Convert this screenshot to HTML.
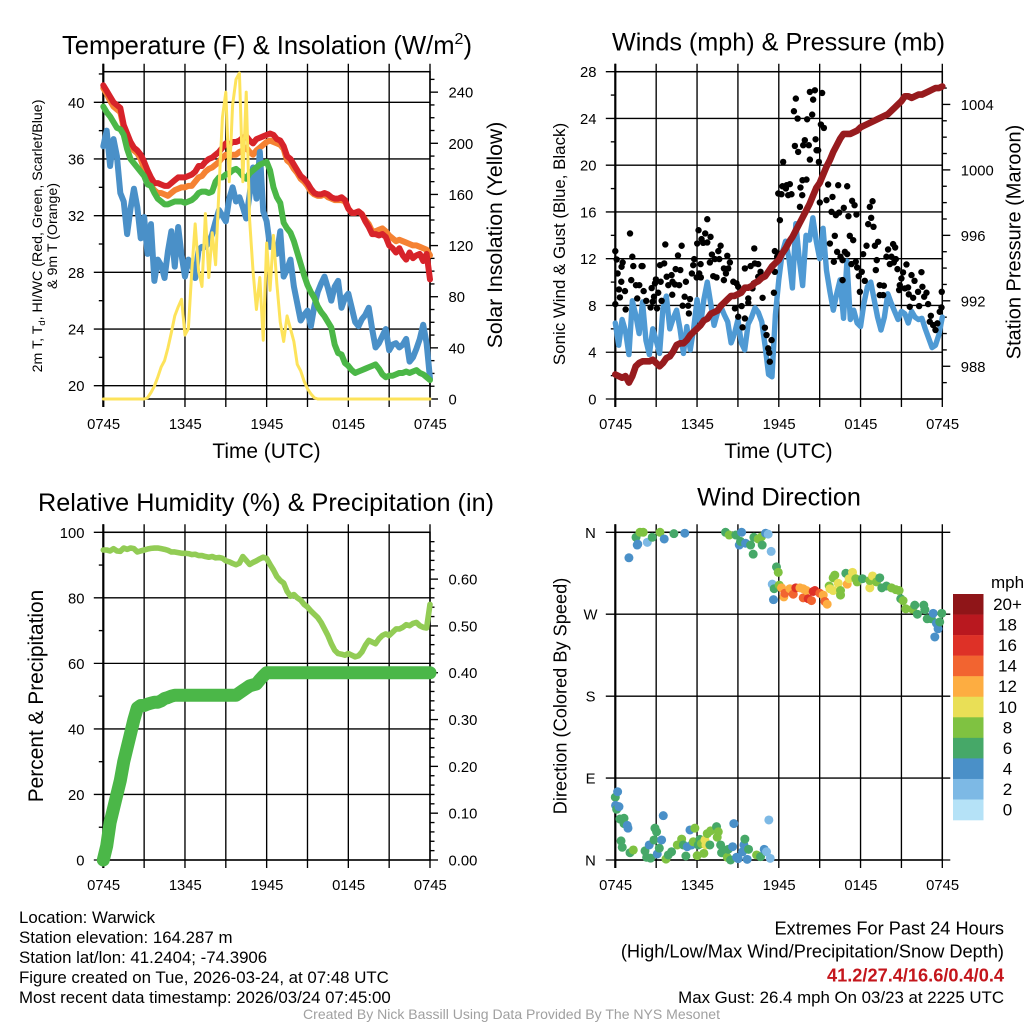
<!DOCTYPE html>
<html lang="en">
<head>
<meta charset="utf-8">
<title>Warwick Mesonet Station Meteogram</title>
<style>
html,body{margin:0;padding:0;background:#fff;}
svg{display:block;font-family:"Liberation Sans",sans-serif;}
text{fill:#000;}
</style>
</head>
<body>
<svg id="chart" xmlns="http://www.w3.org/2000/svg" width="1024" height="1024" viewBox="0 0 1024 1024">
<rect x="0" y="0" width="1024" height="1024" fill="#fff"/>
<text x="267" y="54" font-size="25.6" text-anchor="middle">Temperature (F) &amp; Insolation (W/m<tspan font-size="16" dy="-10">2</tspan><tspan dy="10">)</tspan></text>
<text x="778.5" y="50.5" font-size="25.2" text-anchor="middle">Winds (mph) &amp; Pressure (mb)</text>
<text x="266" y="511" font-size="25.2" text-anchor="middle" textLength="456">Relative Humidity (%) &amp; Precipitation (in)</text>
<text x="779" y="505.5" font-size="25.2" text-anchor="middle">Wind Direction</text>
<text x="266.5" y="458" font-size="20.9" text-anchor="middle">Time (UTC)</text>
<text x="778.5" y="458" font-size="20.9" text-anchor="middle">Time (UTC)</text>
<text transform="translate(42,236) rotate(-90)" font-size="14.2" text-anchor="middle">2m T, T<tspan font-size="9.5" dy="3">d</tspan><tspan dy="-3">, HI/WC (Red, Green, Scarlet/Blue)</tspan></text>
<text transform="translate(57,236) rotate(-90)" font-size="14.2" text-anchor="middle">&amp; 9m T (Orange)</text>
<text transform="translate(502,235) rotate(-90)" font-size="21.2" text-anchor="middle">Solar Insolation (Yellow)</text>
<text transform="translate(565,244) rotate(-90)" font-size="16.9" text-anchor="middle">Sonic Wind &amp; Gust (Blue, Black)</text>
<text transform="translate(1020.5,242) rotate(-90)" font-size="20" text-anchor="middle">Station Pressure (Maroon)</text>
<text transform="translate(43,696) rotate(-90)" font-size="20.9" text-anchor="middle">Percent &amp; Precipitation</text>
<text transform="translate(566.5,696) rotate(-90)" font-size="18.2" text-anchor="middle">Direction (Colored By Speed)</text>
<text x="1007.5" y="588" font-size="17" text-anchor="middle">mph</text>
<g font-size="16.85">
<text x="19" y="923">Location: Warwick</text>
<text x="19" y="943">Station elevation: 164.287 m</text>
<text x="19" y="963">Station lat/lon: 41.2404; -74.3906</text>
<text x="19" y="983">Figure created on Tue, 2026-03-24, at 07:48 UTC</text>
<text x="19" y="1003">Most recent data timestamp: 2026/03/24 07:45:00</text>
</g>
<g font-size="18.2" text-anchor="end">
<text x="1004" y="934.5">Extremes For Past 24 Hours</text>
<text x="1004" y="957.5">(High/Low/Max Wind/Precipitation/Snow Depth)</text>
<text x="1004" y="981.5" font-weight="bold" style="fill:#c4161c">41.2/27.4/16.6/0.4/0.4</text>
<text x="1004" y="1003" font-size="16.85">Max Gust: 26.4 mph On 03/23 at 2225 UTC</text>
</g>
<text x="511.5" y="1019" font-size="14.04" text-anchor="middle" style="fill:#a0a0a0">Created By Nick Bassill Using Data Provided By The NYS Mesonet</text>
</svg>
<script>
const timeTickLabels = ['0745','1345','1945','0145','0745'];
const timeGridHours = [0,3,6,9,12,15,18,21,24];
const tempTicks = [20,24,28,32,36,40];
const tempMinorTicks = [22,26,30,34,38,42];
const solarTicks = [0,40,80,120,160,200,240];
const solarMinorTicks = [10,20,30,50,60,70,90,100,110,130,140,150,170,180,190,210,220,230,250];
const windTicks = [0,4,8,12,16,20,24,28];
const windMinorTicks = [2,6,10,14,18,22,26];
const pressureTicks = [988,992,996,1000,1004];
const pressureMinorTicks = [987,989,990,991,993,994,995,997,998,999,1001,1002,1003,1005];
const humidityTicks = [0,20,40,60,80,100];
const humidityMinorTicks = [10,30,50,70,90];
const precipTicks = [0,0.1,0.2,0.3,0.4,0.5,0.6];
const precipMinorTicks = [0.02,0.04,0.06,0.08,0.12,0.14,0.16,0.18,0.22,0.24,0.26,0.28,0.32,0.34,0.36,0.38,0.42,0.44,0.46,0.48,0.52,0.54,0.56,0.58,0.62,0.64,0.66,0.68];
const directionTicks = [360,270,180,90,0];
const directionTickLabels = ['N','W','S','E','N'];
const legendLabels = ['20+','18','16','14','12','10','8','6','4','2','0'];
const legendColors = ['#8f1518','#b9181f','#de3127','#f26430','#fdad41','#e9df56','#7fc241','#46a868','#4a90c8','#7db9e5','#b5e2f7'];

const airTemp = [41.2,40.8,40.4,40.0,39.8,39.6,38.4,37.8,37.2,36.8,36.6,36.3,35.8,35.2,34.7,34.3,34.3,34.2,34.1,34.1,34.3,34.5,34.7,34.7,34.7,34.8,34.9,35.1,35.5,35.5,35.8,36.0,36.1,36.3,36.5,36.8,37.1,37.0,37.2,37.2,37.3,37.5,37.6,37.3,37.1,37.4,37.5,37.6,37.7,37.8,37.7,37.4,37.3,36.9,36.2,36.0,35.6,35.2,34.8,34.6,34.3,33.9,33.6,33.5,33.5,33.6,33.5,33.3,33.2,33.2,33.3,33.1,32.5,32.2,32.2,32.3,32.1,31.6,31.2,30.7,30.7,30.6,30.7,30.5,29.9,29.7,29.4,29.7,29.2,28.9,29.4,29.0,29.2,29.3,28.8,29.3,27.5];
const temp9m = [41.0,40.6,40.1,39.7,39.5,39.3,38.2,37.6,37.0,36.6,36.4,36.0,35.3,34.7,34.1,33.8,33.6,33.6,33.5,33.4,33.6,33.8,33.9,34.0,34.0,34.1,34.1,34.4,34.7,34.8,35.1,35.3,35.4,35.6,35.8,36.1,36.3,36.2,36.3,36.3,36.5,36.6,36.8,36.5,36.3,36.6,36.8,37.0,37.2,37.3,37.2,37.1,37.0,36.7,35.9,35.7,35.3,35.0,34.6,34.4,34.1,33.7,33.5,33.4,33.4,33.5,33.3,33.2,33.1,33.1,33.1,33.0,32.5,32.2,32.2,32.3,32.1,31.7,31.4,30.9,30.9,31.0,31.1,30.9,30.6,30.4,30.2,30.3,30.2,30.1,30.0,29.9,29.9,29.8,29.7,29.6,29.2];
const dewPoint = [39.7,39.3,39.0,38.6,38.2,38.1,37.7,36.7,36.0,35.7,35.4,35.1,34.8,34.2,34.1,33.6,33.2,33.0,32.8,32.8,32.9,33.0,33.0,33.0,32.9,33.0,33.1,33.3,33.6,33.7,33.7,33.6,33.7,34.4,34.7,34.7,34.9,35.0,35.2,35.3,35.1,34.8,34.6,35.0,35.2,35.4,35.6,35.7,35.8,35.2,34.0,33.3,32.9,31.5,31.1,30.8,30.2,29.4,28.6,27.8,27.1,26.6,26.2,25.6,25.2,24.9,24.5,24.1,22.9,22.3,22.2,21.6,21.4,21.1,20.9,21.0,21.1,21.2,21.3,21.4,21.5,21.2,20.8,20.6,20.7,20.7,20.8,20.9,20.9,21.0,20.9,21.0,21.1,20.9,20.8,20.6,20.4];
const windChill = [36.9,38.0,35.5,37.4,36.2,33.6,33.0,30.7,32.5,33.9,32.6,30.4,31.9,29.3,31.4,27.4,28.9,28.5,27.6,29.5,30.9,28.4,31.2,29.2,27.7,28.9,28.6,27.6,29.6,29.8,29.8,30.1,30.7,31.6,32.4,32.0,31.6,33.2,34.0,33.0,33.3,32.6,31.8,33.5,35.4,33.2,36.5,32.3,31.6,29.8,29.8,29.3,30.9,27.7,28.2,28.9,27.0,25.8,24.6,25.0,25.3,24.2,25.6,26.6,27.2,27.7,26.9,26.0,27.0,27.4,25.5,26.2,26.5,25.5,24.5,24.2,24.7,25.0,25.5,24.0,22.7,23.0,23.5,24.0,22.5,22.9,23.0,22.7,22.9,23.3,21.7,22.0,22.6,23.3,24.3,23.0,20.5];
const solarInsolation = [0,0,0,0,0,0,0,0,0,0,0,0,0,1,5,10,17,25,30,40,52,65,72,78,50,55,100,137,100,88,145,95,130,105,165,220,240,170,230,250,255,170,240,140,100,70,95,46,122,85,128,90,60,45,65,55,45,27,22,14,8,4,1,0,0,0,0,0,0,0,0,0,0,0,0,0,0,0,0,0,0,0,0,0,0,0,0,0,0,0,0,0,0,0,0,0,0];
const sonicWind = [6.5,4.6,6.8,5.8,3.8,8.4,7.2,5.6,8.3,5.0,3.8,6.0,5.0,3.9,7.8,8.8,6.0,6.9,7.6,6.0,3.9,6.2,4.2,6.0,8.5,6.3,8.5,10.0,8.2,6.3,7.4,7.9,7.2,6.6,4.8,5.6,6.8,4.8,4.2,6.4,7.0,7.8,7.4,6.6,4.5,2.1,1.9,7.2,10.2,12.5,13.5,12.0,9.5,15.0,12.0,9.7,14.0,13.6,15.5,13.5,12.0,14.6,11.0,9.2,7.6,9.0,10.2,6.9,11.8,6.8,7.6,6.5,6.2,8.2,9.6,10.0,8.5,7.0,5.9,7.0,9.0,8.2,7.5,6.8,7.5,7.3,6.5,7.5,7.0,6.8,6.9,6.0,5.2,4.4,4.6,5.5,7.0];
const stationPressure = [987.5,987.4,987.3,987.4,987.0,987.4,988.0,988.2,988.3,988.3,988.3,988.4,988.2,988.0,988.2,988.5,988.6,988.9,989.3,989.4,989.4,989.6,989.9,990.1,990.3,990.5,990.8,990.9,991.2,991.3,991.4,991.7,991.9,992.1,992.3,992.3,992.4,992.5,992.8,992.8,992.9,993.1,993.2,993.4,993.5,993.8,994.1,994.3,994.5,994.9,995.2,995.6,995.9,996.3,996.7,997.1,997.5,997.9,998.4,998.9,999.2,999.7,1000.2,1000.6,1001.1,1001.5,1001.9,1002.2,1002.2,1002.2,1002.3,1002.4,1002.6,1002.7,1002.8,1002.9,1003.0,1003.1,1003.2,1003.3,1003.4,1003.6,1003.8,1004.0,1004.2,1004.5,1004.5,1004.4,1004.5,1004.6,1004.6,1004.7,1004.8,1004.9,1005.0,1005.0,1005.1];
const gustHours = [0,0.1,0.17,0.54,0.46,1.25,1.08,1.32,1.93,2,0.44,0.27,0.71,0.34,0,0.76,1.17,1.52,1.76,2.08,1.61,2.27,2.67,2.84,2.74,2.59,3.06,2.98,2.91,3.33,3.28,3.59,3.67,3.15,3.4,3.77,4.13,3.89,4.2,4.38,4.69,4.18,4.43,4.77,4.6,4.87,5.18,5.09,5.48,4.94,5.35,5.4,5.62,5.97,5.72,5.79,6.26,6.16,6.28,6.01,6.11,6.33,6.6,6.45,6.75,6.99,6.75,7.09,6.94,7.31,7.56,7.73,7.63,7.19,7.43,7.97,8.22,8.41,8.29,8.12,7.97,8.66,8.9,9.02,9.63,10.07,9.76,9.76,10.2,9.51,9.93,10.24,10.49,10.66,10.49,10.17,10.81,11.64,11.71,12.08,11.96,8.78,9.02,9.27,9.51,9.34,10.98,11.1,11.22,11.3,11.34,11.47,11.96,11.88,11.71,12.32,12.2,12.27,12.57,12.81,12.52,12.69,12.93,13.55,13.59,13.72,13.74,14.03,13.11,13.25,13.38,14.08,14.45,14.28,14.65,14.52,15.18,15.09,15.31,13.18,13.42,13.91,13.79,14.2,14.7,14.77,14.89,14.28,14.94,15.62,16.36,17.02,15.01,15.5,15.94,15.87,16.19,16.43,16.77,17.38,17.56,17.11,17.7,16.11,15.75,17.21,17.46,16.28,16.04,16.53,16.85,17.02,16.68,17.33,17.65,17.75,18.09,17.87,16.68,18.31,17.95,18.88,18.68,18.78,18.56,18.95,19.29,19.05,18.44,18.19,19.19,19.12,19.41,19.71,19.41,19.66,20.02,20.39,20.54,19.9,20.27,20.15,20.59,20.44,20.71,21.12,21.37,21.74,21.96,21,20.88,20.83,21.25,21.49,21.54,21.86,22.22,22.54,22.84,22.67,22.47,22.96,22.3,21.61,23.16,23.08,23.33,23.64,23.5,23.81,23.96,23.94];
const gustSpeeds = [12.65,11.94,10.74,11.68,11.31,12.17,14.16,11.37,11.37,11.37,10.03,9.37,9.23,8.69,8.12,7.66,10.17,9.74,9.74,9.23,8.6,8.4,9.49,8.75,8.32,7.83,7.75,10.23,9.89,10.03,11.45,11.6,13.22,9.09,8.4,10.46,10.6,9.74,10.03,9.8,9.74,8.92,11.11,11.03,12.28,13.11,10.03,8.75,8.55,7.98,7.98,7.32,10.74,10.4,11.45,11.97,11.54,10.74,10.4,13.3,14.44,13.68,14.16,13.36,13.39,13.87,15.38,12.36,11.68,11.97,12.65,13.11,11.97,10.51,10.4,11.17,12.25,11.68,11.17,10.74,10.17,10.03,9.89,9.6,9.52,9.46,8.6,8.23,12.88,11.17,11.37,11.6,11.54,10.88,10.46,9.89,8.66,9.09,12.65,15.3,17.58,7.75,7.04,7.95,6.89,6.13,6.1,5.47,4.33,3.96,3.19,5.04,12.45,12.17,10.88,20.28,17.52,18.2,18.29,18.38,18.01,17.44,17.52,16.44,18.09,17.44,18.72,18.77,24.62,25.7,23.99,23.93,24.33,26.27,26.41,25.61,26.18,23.48,23.19,21.65,21.14,22.14,21.71,21.71,22.22,21.28,21.28,20.48,20.28,18.35,18.29,18.2,16.81,17.01,17.29,16.01,15.73,15.95,16.35,16.95,16.58,15.64,15.78,13.96,13.3,13.96,13.59,12.59,11.74,12.17,12.59,12.39,11.88,11.54,11.74,11.25,10.88,10.51,10.17,10.11,9.17,16.92,16.44,15.5,14.96,14.73,13.45,13.11,13.11,12.39,11.88,11.03,9.74,9.69,8.89,8.89,12.79,13.25,12.96,12.17,12.17,11.54,11.97,11.68,11.11,10.83,11.51,10.6,10.11,10.31,9.74,9.32,9.46,9.54,8.95,8.66,9.17,9.6,9.09,8.75,10.85,8.12,7.95,7.89,7.12,6.61,6.32,6.47,5.9,7.46,9.17,7.83];
const relativeHumidity = [94.6,94.6,94.3,95.0,94.3,94.2,95.2,94.8,95.2,95.0,94.0,94.3,94.6,94.9,95.1,95.2,95.2,95.0,94.8,94.5,94.0,94.0,93.8,93.6,93.6,93.5,93.2,93.3,92.9,92.9,92.6,92.4,92.6,92.2,92.3,92.1,91.3,91.0,90.5,90.1,90.6,92.6,91.4,90.2,90.8,91.3,91.9,92.4,92.0,90.2,88.5,86.5,85.3,84.5,82.0,80.5,81.0,80.0,79.3,78.0,77.2,76.0,75.0,74.0,72.5,70.5,68.5,66.0,64.0,63.0,62.8,62.5,63.0,62.5,62.0,62.3,63.5,65.5,67.0,66.5,66.0,67.5,68.5,69.0,68.5,69.5,70.5,70.5,71.0,71.8,71.5,72.2,72.5,71.5,71.0,70.8,78.0];
const precipitation = [0,0.03,0.08,0.11,0.14,0.17,0.21,0.24,0.27,0.30,0.325,0.33,0.33,0.333,0.335,0.337,0.337,0.34,0.345,0.347,0.35,0.352,0.352,0.352,0.352,0.352,0.352,0.352,0.352,0.352,0.352,0.352,0.352,0.352,0.352,0.352,0.352,0.352,0.352,0.352,0.357,0.362,0.367,0.372,0.374,0.376,0.385,0.393,0.40,0.40,0.40,0.40,0.40,0.40,0.40,0.40,0.40,0.40,0.40,0.40,0.40,0.40,0.40,0.40,0.40,0.40,0.40,0.40,0.40,0.40,0.40,0.40,0.40,0.40,0.40,0.40,0.40,0.40,0.40,0.40,0.40,0.40,0.40,0.40,0.40,0.40,0.40,0.40,0.40,0.40,0.40,0.40,0.40,0.40,0.40,0.40,0.40];
const dirHours = [0,0.02,0.1,0.17,0.27,0.34,0.42,0.51,0.64,0.64,0.88,0.93,1,1.08,1.32,1.52,1.61,1.65,1.81,2.05,2.18,2.3,2.35,2.49,2.59,2.71,2.84,2.91,3.03,3.08,3.23,3.28,3.4,3.52,3.59,3.72,3.89,4.13,4.3,4.55,4.87,4.99,5.1,5.18,5.28,5.48,5.6,5.72,5.84,6.01,6.09,6.21,6.33,6.5,6.58,6.65,6.75,6.94,6.99,7.43,7.48,7.56,7.73,7.8,7.97,8.09,8.22,8.29,8.36,8.46,8.61,8.7,8.85,8.9,9.02,9.1,9.19,9.27,9.34,9.44,9.51,9.56,9.68,9.78,9.93,10.12,10.17,10.37,10.49,10.66,10.73,10.78,10.93,11.03,11.1,11.22,11.27,11.37,11.44,11.52,11.61,11.66,11.83,11.96,12.03,12.2,12.37,12.44,12.81,13.06,13.25,13.55,13.79,13.79,14.03,14.16,14.4,14.52,14.65,15.01,15.26,15.38,15.55,15.7,15.75,15.99,15.99,16.11,16.36,16.53,16.53,16.92,17.02,17.16,17.41,17.65,17.75,18.14,18.68,18.68,18.88,19.17,19.41,19.56,19.9,20.27,20.59,20.83,20.95,21.12,21.32,21.81,21.98,22.17,22.64,22.72,22.89,23.2,23.33,23.45,23.57,23.69,23.81,23.96];
const dirDegrees = [69,60,55.7,75,58.6,45,21,14,45.8,40,38,35,332,8,11,354.5,346,347,360,360,10,3,349,16.5,2,354.5,22,35,31,6.6,13,360,22,48.7,352.7,1,5.5,9,358.5,16.5,23,16.5,359,4.4,14.6,33,16.5,20,35,4.8,16.5,22.7,18,7.3,22,16.5,29,16.5,32,36.6,25,31,16.5,8,11,360,3,11.7,357,0,14.6,40,357,3,1.5,346,350,360,9,16.5,23,348,0.7,11.7,346,336,354.5,5.5,352.7,3.7,355,346,11.7,359,9,358,44,1.8,339,303,286,298,322,316,302,299,289,293,298,292,299,299,298,288,296,287,285,295,296,293,291,284,281,301,298,296,310,313,304,296,291,315,303,309,316,309,305.5,309,299,307,312,305.5,310,299,301,299,297,296,287,285,276,275.5,280,270,280,275,265,265,271,245,260,254,261.5,271];
const dirSpeeds = [6,4,6,4,4,6,6,6,6,6,4,4,4,6,8,6,4,4,8,8,6,6,2,4,6,6,6,6,6,4,6,8,4,4,4,8,6,6,6,8,8,6,4,6,4,4,4,8,8,8,6,6,8,8,10,10,8,6,8,6,8,8,6,6,6,6,8,6,8,6,4,4,6,4,4,4,6,4,4,4,6,4,4,6,6,6,6,8,8,6,8,6,4,4,2,2,2,2,2,2,4,6,6,8,8,12,12,14,12,14,16,12,12,14,12,16,14,16,16,14,12,14,12,8,10,10,8,8,10,8,8,6,12,10,10,8,8,6,10,8,10,8,6,6,6,8,8,8,6,8,8,8,6,6,6,6,6,6,4,4,4,4,6,6];

const svg = document.getElementById('chart');
const NS = 'http://www.w3.org/2000/svg';

function make(parent, tag, attrs, text) {
  const el = document.createElementNS(NS, tag);
  for (const k in attrs) el.setAttribute(k, attrs[k]);
  if (text !== undefined) el.textContent = text;
  parent.appendChild(el);
  return el;
}
function scale(d0, d1, r0, r1) {
  return function (v) { return r0 + (v - d0) * (r1 - r0) / (d1 - d0); };
}
const INK = {stroke:'#000','stroke-width':1.35,fill:'none'};
const TICK_FONT = 14.8;
function linePath(values, xFn, yFn) {
  let d = '';
  values.forEach(function (v, i) {
    const h = 24 * i / (values.length - 1);
    d += (i ? 'L' : 'M') + xFn(h).toFixed(2) + ' ' + yFn(v).toFixed(2);
  });
  return d;
}
function seriesLine(panel, values, xFn, yFn, color, width) {
  return make(panel, 'path', {d:linePath(values, xFn, yFn), fill:'none', stroke:color, 'stroke-width':width, 'stroke-linejoin':'round', 'stroke-linecap':'round'});
}
function numberLabel(v, digits) { return digits ? v.toFixed(digits) : String(v); }

function drawPanel(name, left, right, top, bottom, xFn, yFn, majors, minors, rightExtend) {
  const g = make(svg, 'g', {});
  
  
  timeGridHours.forEach(function (h) {
    const x = xFn(h);
    const line = make(g, 'line', Object.assign({x1:x, x2:x, y1:top - 8, y2:bottom + 8}, INK));
    
    
  });
  majors.forEach(function (v) {
    const y = yFn(v);
    const line = make(g, 'line', Object.assign({x1:left - 9.5, x2:right + rightExtend, y1:y, y2:y}, INK));
    
    
  });
  minors.forEach(function (v) {
    const y = yFn(v);
    const tick = make(g, 'line', Object.assign({x1:left - 4.5, x2:left, y1:y, y2:y}, INK));
    
    
  });
  const frame = make(g, 'rect', {x:left, y:top, width:right - left, height:bottom - top, fill:'none', stroke:'#000', 'stroke-width':1.5});
  
  
  const leftEdge = make(g, 'line', {x1:left, x2:left, y1:top - 8, y2:bottom + 8, stroke:'#000', 'stroke-width':2.2});
  
  
  timeTickLabels.forEach(function (label, i) {
    const t = make(g, 'text', {x:xFn(i * 6) + 0.3, y:bottom + 30, 'font-size':TICK_FONT, 'text-anchor':'middle'}, label);
    
    
  });
  return g;
}
function leftLabels(panel, values, x, yFn) {
  values.forEach(function (v) {
    const t = make(panel, 'text', {x:x, y:yFn(v) + 5.5, 'font-size':TICK_FONT, 'text-anchor':'end'}, String(v));
    
    
  });
}
function rightAxis(panel, right, yFn, majors, minors, digits) {
  majors.forEach(function (v) {
    const y = yFn(v);
    const tick = make(panel, 'line', Object.assign({x1:right, x2:right + 8, y1:y, y2:y}, INK));
    
    
    const t = make(panel, 'text', {x:right + 18.5, y:y + 5.5, 'font-size':TICK_FONT}, numberLabel(v, digits));
    
    
  });
  minors.forEach(function (v) {
    const y = yFn(v);
    const tick = make(panel, 'line', Object.assign({x1:right, x2:right + 4.5, y1:y, y2:y}, INK));
    
    
  });
}

const xLeft = scale(0, 24, 103.3, 430);
const xRight = scale(0, 24, 615.3, 942.3);
const topRow = {top:71.7, bottom:399};
const lowRow = {top:532.3, bottom:860};

const yTemp = scale(20, 40, 385.7, 102.3);
const ySolar = scale(0, 256, topRow.bottom, topRow.top);
const yWind = scale(0, 28, topRow.bottom, topRow.top);
const yPressure = scale(986, 1006, topRow.bottom, topRow.top);
const yHumidity = scale(0, 100, lowRow.bottom, lowRow.top);
const yPrecip = scale(0, 0.7, lowRow.bottom, lowRow.top);
const yDirection = scale(0, 360, lowRow.bottom, lowRow.top);

/* Temperature and insolation */
const tempPanel = drawPanel('temperature-panel', 103.3, 430, topRow.top, topRow.bottom, xLeft, yTemp, tempTicks, tempMinorTicks, 0);
leftLabels(tempPanel, tempTicks, 84.5, yTemp);
rightAxis(tempPanel, 430, ySolar, solarTicks, solarMinorTicks, 0);
const line9m = seriesLine(tempPanel, temp9m, xLeft, yTemp, '#f58233', 6);


const lineAir = seriesLine(tempPanel, airTemp, xLeft, yTemp, '#d7232a', 6);


const lineChill = seriesLine(tempPanel, windChill, xLeft, yTemp, '#4a90c8', 6);


const lineDew = seriesLine(tempPanel, dewPoint, xLeft, yTemp, '#4bb747', 6);


const lineSolar = seriesLine(tempPanel, solarInsolation, xLeft, ySolar, '#fde35b', 3);



/* Winds and pressure */
const windPanel = drawPanel('winds-panel', 615.3, 942.3, topRow.top, topRow.bottom, xRight, yWind, windTicks, windMinorTicks, 0);
leftLabels(windPanel, windTicks, 596.5, yWind);
rightAxis(windPanel, 942.3, yPressure, pressureTicks, pressureMinorTicks, 0);
const lineWind = seriesLine(windPanel, sonicWind, xRight, yWind, '#4f9ad4', 5.4);


gustHours.forEach(function (h, i) {
  const dot = make(windPanel, 'circle', {cx:xRight(h), cy:yWind(gustSpeeds[i]), r:3.2, fill:'#000'});
  
  
});
const linePressure = seriesLine(windPanel, stationPressure, xRight, yPressure, '#971b1e', 6.6);



/* Humidity and precipitation */
const humidityPanel = drawPanel('humidity-panel', 103.3, 430, lowRow.top, lowRow.bottom, xLeft, yHumidity, humidityTicks, humidityMinorTicks, 0);
leftLabels(humidityPanel, humidityTicks, 84.5, yHumidity);
rightAxis(humidityPanel, 430, yPrecip, precipTicks, precipMinorTicks, 2);
const lineHumidity = seriesLine(humidityPanel, relativeHumidity, xLeft, yHumidity, '#92cc55', 5.6);


const linePrecip = seriesLine(humidityPanel, precipitation, xLeft, yPrecip, '#4bb748', 13);



/* Wind direction */
const directionPanel = drawPanel('direction-panel', 615.3, 942.3, lowRow.top, lowRow.bottom, xRight, yDirection, directionTicks, [], 8);
directionTicks.forEach(function (v, i) {
  const t = make(directionPanel, 'text', {x:590.5, y:yDirection(v) + 5.5, 'font-size':TICK_FONT, 'text-anchor':'middle'}, directionTickLabels[i]);
  
  
});
function speedColor(speed) {
  const idx = Math.min(10, Math.floor(speed / 2));
  return legendColors[10 - idx];
}
dirHours.forEach(function (h, i) {
  const dot = make(directionPanel, 'circle', {cx:xRight(h), cy:yDirection(dirDegrees[i]), r:4.5, fill:speedColor(dirSpeeds[i])});
  
  
});

/* Speed legend */
const legend = make(svg, 'g', {});


legendLabels.forEach(function (label, i) {
  const box = make(legend, 'rect', {x:953, y:594 + i * 20.55, width:30.5, height:20.8, fill:legendColors[i]});
  
  
  const t = make(legend, 'text', {x:1007.5, y:610 + i * 20.55, 'font-size':17, 'text-anchor':'middle'}, label);
  
  
});
</script>
</body>
</html>
